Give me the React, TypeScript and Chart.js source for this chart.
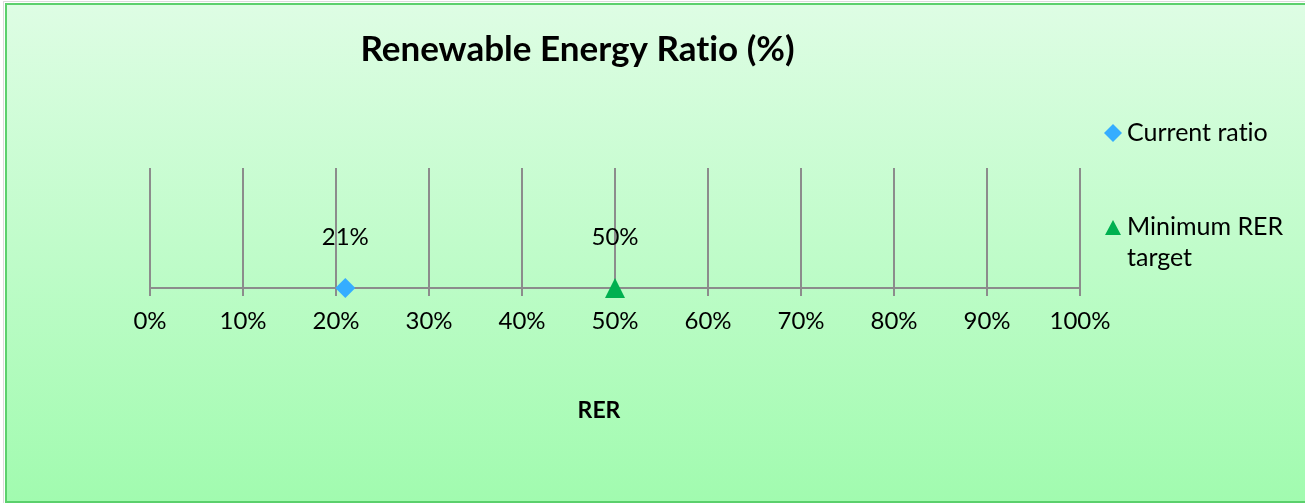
import React, { useEffect, useRef } from 'react';
import { Chart, registerables } from 'chart.js';

Chart.register(...registerables);

// Series shown on the RER scale
const seriesNames = ['Current ratio', 'Minimum RER target'];
const rerValues = [21, 50]; // percent
const seriesColors = ['#35adff', '#00b050'];

// Axis range and text
const axisMin = 0;
const axisMax = 100;
const axisStep = 10;
const chartTitle = 'Renewable Energy Ratio (%)';
const axisTitle = 'RER';

const W = 1305;
const H = 503;
const FONT = 'Lato, "Noto Sans", sans-serif';

function makeTriangle(w: number, h: number, color: string): HTMLCanvasElement {
  const c = document.createElement('canvas');
  c.width = w;
  c.height = h;
  const g = c.getContext('2d')!;
  g.fillStyle = color;
  g.beginPath();
  g.moveTo(w / 2, 0);
  g.lineTo(w, h);
  g.lineTo(0, h);
  g.closePath();
  g.fill();
  return c;
}

function drawDiamond(ctx: CanvasRenderingContext2D, x: number, y: number, r: number, color: string) {
  ctx.fillStyle = color;
  ctx.beginPath();
  ctx.moveTo(x, y - r);
  ctx.lineTo(x + r, y);
  ctx.lineTo(x, y + r);
  ctx.lineTo(x - r, y);
  ctx.closePath();
  ctx.fill();
}

function drawTriangle(ctx: CanvasRenderingContext2D, x: number, y: number, w: number, h: number, color: string) {
  ctx.fillStyle = color;
  ctx.beginPath();
  ctx.moveTo(x, y - h / 2);
  ctx.lineTo(x + w / 2, y + h / 2);
  ctx.lineTo(x - w / 2, y + h / 2);
  ctx.closePath();
  ctx.fill();
}

function wrapText(ctx: CanvasRenderingContext2D, text: string, maxWidth: number): string[] {
  const words = text.split(' ');
  const lines: string[] = [];
  let line = '';
  for (const w of words) {
    const test = line ? line + ' ' + w : w;
    if (line && ctx.measureText(test).width > maxWidth) {
      lines.push(line);
      line = w;
    } else {
      line = test;
    }
  }
  if (line) lines.push(line);
  return lines;
}

// Panel background: soft green vertical gradient with a green frame
const backdropPlugin = {
  id: 'backdrop',
  beforeDraw(chart: Chart) {
    const ctx = chart.ctx;
    ctx.save();
    ctx.fillStyle = '#ffffff';
    ctx.fillRect(0, 0, W, H);
    ctx.strokeStyle = 'rgba(0,0,0,0.14)';
    ctx.lineWidth = 1;
    ctx.strokeRect(3.5, 1.5, W + 10, H);
    const g = ctx.createLinearGradient(0, 4, 0, 502);
    g.addColorStop(0, '#defde4');
    g.addColorStop(1, '#a1fbaf');
    ctx.fillStyle = g;
    ctx.fillRect(6, 4, W, 498);
    ctx.strokeStyle = '#5bd06c';
    ctx.lineWidth = 2;
    ctx.strokeRect(6, 4, W + 10, 498);
    ctx.restore();
  },
};

// Titles, value labels and legend
const overlayPlugin = {
  id: 'overlay',
  afterDatasetsDraw(chart: Chart) {
    const ctx = chart.ctx as any;
    ctx.save();
    ctx.fillStyle = '#000000';
    // plain glyphs, no "ti" ligature
    ctx.textRendering = 'optimizeSpeed';

    // chart title
    ctx.font = `bold 35px ${FONT}`;
    ctx.textAlign = 'center';
    ctx.textBaseline = 'alphabetic';
    ctx.fillText(chartTitle, 577.5, 61);

    // axis title
    ctx.font = `bold 23px ${FONT}`;
    ctx.fillText(axisTitle, 599, 418);

    // value labels above each point
    ctx.font = `24px ${FONT}`;
    ctx.textBaseline = 'middle';
    chart.data.datasets.forEach((_, i) => {
      const meta = chart.getDatasetMeta(i);
      const el = meta.data[0];
      if (!el) return;
      ctx.fillText(`${rerValues[i]}%`, el.x, el.y - 51);
    });

    // legend
    ctx.textAlign = 'left';
    ctx.textBaseline = 'alphabetic';
    const legendY = [133, 227];
    seriesNames.forEach((name, i) => {
      const y = legendY[i];
      if (i === 0) drawDiamond(ctx, 1113, y, 9, seriesColors[i]);
      else drawTriangle(ctx, 1113, y + 0.5, 16, 15, seriesColors[i]);
      ctx.fillStyle = '#000000';
      ctx.font = `25px ${FONT}`;
      const lines = wrapText(ctx, name, 168);
      lines.forEach((ln, k) => ctx.fillText(ln, 1127, y + 8 + k * 31));
    });
    ctx.restore();
  },
};

export default function App() {
  const canvasRef = useRef<HTMLCanvasElement | null>(null);

  useEffect(() => {
    const canvas = canvasRef.current;
    if (!canvas) return;
    const triangle = makeTriangle(20, 20, seriesColors[1]);

    const chart = new Chart(canvas, {
      type: 'scatter',
      data: {
        datasets: seriesNames.map((name, i) => ({
          label: name,
          data: [{ x: rerValues[i], y: 0 }],
          pointStyle: i === 0 ? 'rectRot' : (triangle as any),
          pointRadius: 10,
          backgroundColor: seriesColors[i],
          borderColor: seriesColors[i],
          borderWidth: 0,
          clip: false as any,
          showLine: false,
        })),
      },
      options: {
        responsive: false,
        devicePixelRatio: 1,
        animation: false,
        events: [],
        layout: { padding: { left: 150, right: 225, top: 168, bottom: 0 } },
        plugins: {
          legend: { display: false },
          title: { display: false },
          tooltip: { enabled: false },
        },
        scales: {
          x: {
            type: 'linear',
            position: 'bottom',
            min: axisMin,
            max: axisMax,
            ticks: {
              stepSize: axisStep,
              callback: (v: any) => `${v}%`,
              color: '#000000',
              font: { family: FONT, size: 24 },
              padding: 11,
              maxRotation: 0,
              autoSkip: false,
            },
            grid: { color: '#8c8c8c', lineWidth: 2, tickLength: 8, drawTicks: true },
            border: { color: '#8c8c8c', width: 2 },
            afterFit: (s: any) => {
              s.height = H - 288;
            },
          },
          y: { display: false, min: 0, max: 1 },
        },
      },
      plugins: [backdropPlugin, overlayPlugin],
    });
    return () => chart.destroy();
  }, []);

  return (
    <div style={{ position: 'fixed', left: 0, top: 0, width: W, height: H }}>
      <canvas ref={canvasRef} width={W} height={H} style={{ display: 'block' }} />
    </div>
  );
}
